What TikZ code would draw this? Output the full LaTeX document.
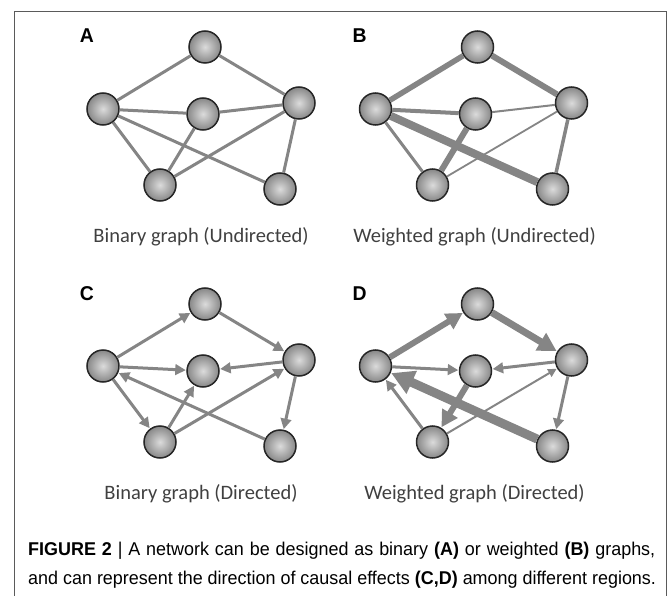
\documentclass[tikz,border=0pt]{standalone}
\usepackage{fontspec}
\setmainfont{Carlito}
\newfontfamily\capfont[FakeStretch=0.97]{Liberation Sans}
\usetikzlibrary{arrows.meta}

\definecolor{edgegray}{HTML}{858585}
\definecolor{textgray}{HTML}{404040}
\definecolor{framegray}{HTML}{5A5A5A}

\tikzset{
  region/.style={circle, minimum size=32pt, inner sep=0pt, draw=black!85,
    line width=1.5pt, inner color=black!14, outer color=black!47},
  link/.style={draw=edgegray, line width=#1},
  link/.default=3pt,
  causal/.style={link=#1, shorten >=0.5pt,
    -{Triangle[length=4.5pt 2, width=4pt 2.2]}},
  causal/.default=3pt,
  panel/.style={font=\capfont\bfseries\fontsize{20}{20}\selectfont, anchor=base},
  graphname/.style={font=\fontsize{20.5}{24}\selectfont, text=textgray, anchor=base},
}

\begin{document}
\begin{tikzpicture}[x=1pt, y=-1pt]
\useasboundingbox (0,0) rectangle (669,596);

% outer frame, open at the bottom
\draw[framegray, line width=0.9pt] (14,596) -- (14,11) -- (666,11) -- (666,596);

%% the same six regions in every panel
\foreach \p/\dx/\dy in {A/0/0, B/272.5/0, C/0/257, D/272.5/257} {
  \begin{scope}[shift={(\dx,\dy)}]
    \node[region] (top\p)   at (205,47)  {};
    \node[region] (left\p)  at (103,109) {};
    \node[region] (mid\p)   at (203,114) {};
    \node[region] (right\p) at (299,103) {};
    \node[region] (low\p)   at (160,185) {};
    \node[region] (far\p)   at (280,189) {};
    \node[panel] (lbl\p) at (87,43) {\p};
  \end{scope}
}

% binary, undirected
\foreach \a/\b in {top/left, top/right, left/mid, mid/right, left/low,
                   left/far, mid/low, low/right, right/far}
  \draw[link] (\a A) -- (\b A);

% weighted, undirected
\foreach \a/\b/\w in {top/left/5.5, top/right/6, left/mid/4, mid/right/2,
                      left/low/3, left/far/8, mid/low/6, low/right/1.8,
                      right/far/3.5}
  \draw[link=\w pt] (\a B) -- (\b B);

% binary, directed
\foreach \a/\b in {left/top, top/right, left/mid, right/mid, left/low,
                   low/mid, low/right, far/left, right/far}
  \draw[causal] (\a C) -- (\b C);

% weighted, directed
\foreach \a/\b/\w in {left/top/6, top/right/7, left/mid/3, right/mid/3,
                      low/left/3, mid/low/6, low/right/2, far/left/9,
                      right/far/3}
  \draw[causal=\w pt] (\a D) -- (\b D);

%% graph names
\node[graphname] (nameA) at (201,242)   {Binary graph (Undirected)};
\node[graphname] (nameB) at (474.5,242) {Weighted graph (Undirected)};
\node[graphname] (nameC) at (201,499)   {Binary graph (Directed)};
\node[graphname] (nameD) at (474.5,499) {Weighted graph (Directed)};

%% figure caption, first line set full width
\begin{scope}[every node/.style={anchor=base west, inner sep=0pt,
    font=\capfont\fontsize{18.5}{22}\selectfont}]
  \node (cap1) at (28,555) {\makebox[627pt][s]{\textbf{FIGURE 2} | A network
    can be designed as binary \textbf{(A)} or weighted \textbf{(B)} graphs,}};
  \node (cap2) at (28,584) {and can represent the direction of causal effects
    \textbf{(C,D)} among different regions.};
\end{scope}
\end{tikzpicture}
\end{document}
